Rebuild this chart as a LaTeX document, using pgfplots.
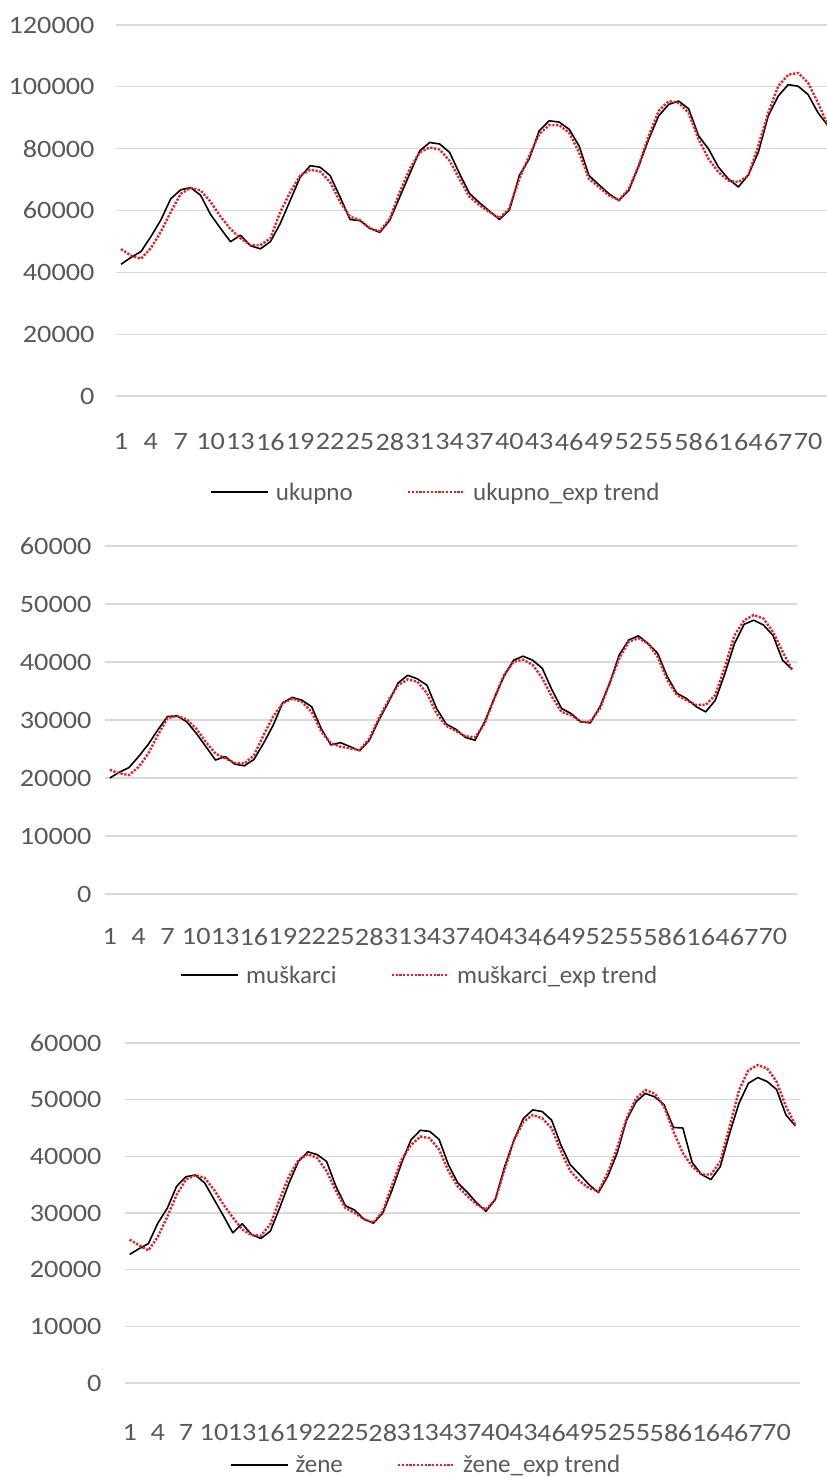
\documentclass[border=0pt]{standalone}
\usepackage{fontspec}
\setmainfont{Carlito}
\newfontfamily\tickfont{Carlito}[FakeStretch=1.13]
\usepackage{pgfplots}
\pgfplotsset{compat=1.18}
\usepackage{pgfplotstable}
\definecolor{gridgrey}{RGB}{217,217,217}
\definecolor{labelgrey}{RGB}{89,89,89}
\definecolor{trendred}{RGB}{230,30,36}

\pgfplotstableread{
i uk ukt mu mut ze zet
1 42600 47500 20000 21400 22700 25300
2 44800 45400 21000 20800 23700 24300
3 46700 44400 21800 20500 24600 23400
4 51500 47800 23700 21900 28200 25800
5 56900 53100 25800 24200 30800 29300
6 63800 59500 28300 27400 34700 33200
7 66700 65400 30600 30300 36400 35900
8 67400 67300 30700 30700 36700 36700
9 64900 66500 29700 30100 35300 36200
10 58700 62800 27700 28500 32400 34100
11 54200 58000 25400 26200 29500 31500
12 49900 54000 23100 24200 26500 29200
13 52000 51000 23700 23400 28100 27100
14 48600 48800 22400 22600 26200 26100
15 47600 48800 22100 22500 25500 26000
16 49900 51000 23200 23900 26800 28000
17 55800 59500 26000 27400 30900 32400
18 63300 66000 29100 30600 35300 36500
19 70800 71300 33000 32900 39100 39300
20 74500 73200 33900 33700 40800 40400
21 74000 72600 33400 33100 40300 39700
22 71300 69200 32300 31400 39100 37400
23 64400 62800 28500 28000 34700 33900
24 57100 58000 25700 26000 31300 30900
25 56700 56900 26100 25400 30500 30000
26 54200 54200 25400 25100 28900 28900
27 52900 53300 24700 24800 28200 28300
28 56900 57400 26500 26800 30000 30300
29 64400 66000 30000 30300 34100 35000
30 71900 73500 33100 33400 38800 39400
31 79300 78800 36400 36000 42900 42000
32 82000 80400 37700 37000 44600 43500
33 81500 79700 37100 36600 44400 43200
34 78800 76100 36000 34600 43000 41200
35 71900 70200 32000 31100 38500 37400
36 65500 64400 29300 29000 35300 34700
37 62500 61700 28400 28100 33700 33000
38 59800 59500 27000 27200 31800 31500
39 57100 57600 26500 27000 30300 30600
40 60100 60600 29700 29400 32400 32400
41 71300 70200 33700 33700 38200 37700
42 76700 77700 37500 37700 42900 42900
43 85800 84700 40300 40000 46700 46100
44 89000 87600 41000 40400 48200 47300
45 88600 87600 40300 39500 47900 46700
46 86300 85200 38900 37200 46400 45000
47 80900 78800 35200 34000 42000 40900
48 71300 70200 32000 31400 38500 37400
49 68300 67600 31100 30800 36800 35600
50 65400 64900 29700 29700 35000 34400
51 63300 63300 29500 29700 33600 33800
52 66500 67000 32300 32000 36500 37100
53 74500 74500 36300 36300 40600 41500
54 83100 84200 41200 40600 46400 46700
55 90600 92200 43800 43500 49600 50200
56 94300 95400 44500 44100 51100 51700
57 95400 94800 43200 43200 50500 51100
58 92900 91600 41500 40900 49100 48800
59 84200 83100 37500 36900 45100 44400
60 79900 76700 34600 34300 45000 40600
61 74000 72400 33700 33400 38900 38200
62 70200 69700 32300 32600 36800 36800
63 67600 69200 31400 32600 35900 36800
64 71500 71300 33400 34300 38200 39100
65 78800 80900 38000 39200 44100 45300
66 90600 91600 43200 44600 49400 51700
67 97000 100200 46500 47200 52900 55200
68 100700 103900 47200 48100 53900 56100
69 100200 104500 46400 47500 53200 55500
70 97500 101300 44600 45200 51800 53200
71 91600 94800 40300 41800 47300 48800
72 87400 87400 38700 38600 45400 45600
}\datatable

\pgfplotsset{
 panel/.style={
  scale only axis,
  xmin=0.5,
  ymin=0,
  axis line style={draw=none},
  major tick length=0pt,
  ymajorgrids,
  grid style={line width=1.2bp, gridgrey},
  xtick={1,4,...,70},
  scaled y ticks=false,
  /pgf/number format/fixed,
  /pgf/number format/1000 sep={},
  /pgf/number format/assume math mode=true,
  tick label style={font=\tickfont\fontsize{25bp}{30bp}\selectfont, text=labelgrey},
  legend columns=2,
  legend style={draw=none, fill=none, anchor=center, font=\fontsize{25bp}{30bp}\selectfont, text=labelgrey,
    /tikz/every odd column/.append style={column sep=5bp},
    /tikz/every even column/.append style={column sep=52bp}},
  legend image code/.code={\draw[##1] (0bp,0bp) -- (57bp,0bp);},
  clip=true,
 },
 blk/.style={black, line width=1.6bp, line join=round},
 trd/.style={trendred, line width=2.4bp, dash pattern=on 2.2bp off 1.6bp},
}

\begin{document}
\begin{tikzpicture}
\useasboundingbox (0bp,0bp) rectangle (827bp,1477bp);

% Panel 1
\begin{axis}[panel,
  at={(116bp,1081bp)}, anchor=south west,
  width=711bp, height=371bp,
  xmax=71.9, ymax=120000, ytick={0,20000,...,120000},
  yticklabel style={xshift=-18bp},
  xticklabel style={yshift=-34bp},
  legend style={at={(0.45,-0.259)}},
]
\addplot[blk] table[x=i,y=uk]{\datatable};
\addlegendentry{ukupno}
\addplot[trd] table[x=i,y=ukt]{\datatable};
\addlegendentry{ukupno\_exp trend}
\end{axis}

% Panel 2
\begin{axis}[panel,
  at={(105bp,583bp)}, anchor=south west,
  width=692bp, height=348bp,
  xmax=72.5, ymax=60000, ytick={0,10000,...,60000},
  yticklabel style={xshift=-10bp},
  xticklabel style={yshift=-31bp},
  legend style={at={(0.455,-0.233)}},
]
\addplot[blk] table[x=i,y=mu]{\datatable};
\addlegendentry{muškarci}
\addplot[trd] table[x=i,y=mut]{\datatable};
\addlegendentry{muškarci\_exp trend}
\end{axis}

% Panel 3
\begin{axis}[panel,
  at={(125bp,94bp)}, anchor=south west,
  width=675bp, height=340bp,
  xmax=72.5, ymax=60000, ytick={0,10000,...,60000},
  yticklabel style={xshift=-20bp},
  xticklabel style={yshift=-38bp},
  legend style={at={(0.446,-0.241)}},
]
\addplot[blk] table[x=i,y=ze]{\datatable};
\addlegendentry{žene}
\addplot[trd] table[x=i,y=zet]{\datatable};
\addlegendentry{žene\_exp trend}
\end{axis}
\end{tikzpicture}
\end{document}
